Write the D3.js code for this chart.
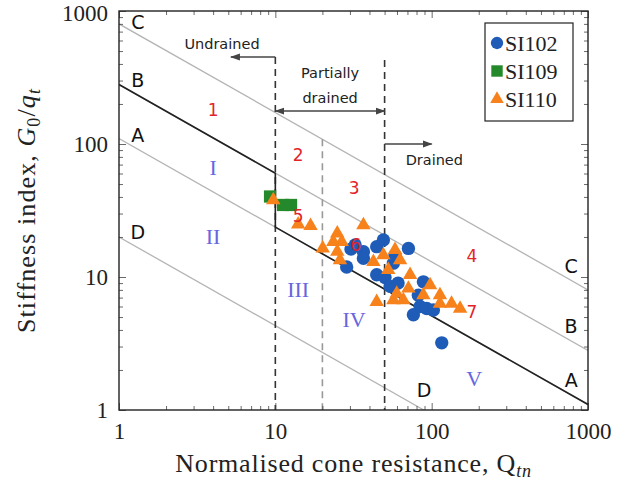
<!DOCTYPE html>
<html><head><meta charset="utf-8">
<script src="https://cdn.jsdelivr.net/npm/d3@7"></script>
<style>body{margin:0;background:#fff}</style>
</head><body>
<svg id="chart" width="627" height="484"></svg>
<script>
// ---------------- data ----------------
const xTickValues = [1, 10, 100, 1000];
const xTickLabels = ["1", "10", "100", "1000"];
const yTickValues = [1, 10, 100, 1000];
const yTickLabels = ["1", "10", "100", "1000"];

// SI102 (circles)
const si102Q = [32.4, 36.6, 44.5, 49.1, 71.0, 28.6, 44.5, 50.3, 56.9, 54.2, 88.5, 82.2, 76.4, 84.3, 93.0, 102.6, 116, 61, 36.6, 58.3, 30.5];
const si102G = [17.4, 15.5, 16.9, 19.0, 16.4, 11.9, 10.4, 9.9, 12.7, 8.5, 9.2, 7.3, 5.2, 6.0, 5.8, 5.65, 3.2, 9.0, 13.8, 14.6, 16.2];
// SI109 (squares)
const si109Q = [9.25, 11.2, 12.6];
const si109G = [40.3, 34.8, 34.8];
// SI110 (triangles)
const si110Q = [9.7, 14.0, 16.8, 36.6, 24.9, 23.5, 26.6, 20.1, 24.9, 25.9, 42.4, 49.1, 52.8, 44.5, 58.3, 62.8, 72.8, 71.0, 59.8, 65.9, 97.7, 88.5, 113, 113, 134, 152, 56.9];
const si110G = [37.9, 24.9, 24.3, 24.6, 21.3, 18.4, 18.4, 16.4, 15.5, 13.4, 13.0, 14.6, 11.3, 6.5, 16.0, 13.4, 10.4, 8.2, 7.5, 6.7, 8.7, 7.3, 7.3, 6.3, 6.3, 5.8, 6.7];

// reference lines (grey), end points
const refNames = ["C", "B", "A", "D"];
const refStartQ = [1, 1, 1, 1];
const refStartG = [800, 280, 110, 20];
const refEndQ = [1000, 1000, 1000, 89];
const refEndG = [8, 2.8, 1.1, 1];

// black boundary line
const boundaryQ = [1, 10, 10, 1000];
const boundaryG = [280, 60.3, 23.7, 1.1];

// vertical dashed boundaries
const dashQ = [10, 20, 50];
const dashTopG = [451, 108.6, 428];
const dashKind = ["dark", "light", "dark"];

// arrows
const arrowLabels = ["Undrained", "Partially drained", "Drained"];
const arrowFromQ = [10, 10, 50];
const arrowToQ = [5.2, 50, 100];
const arrowG = [451, 177, 100];
const arrowDouble = [false, true, false];

// text annotations
const drainTexts = ["Undrained", "Partially", "drained", "Drained"];
const drainQ = [4.56, 22.4, 22.4, 104];
const drainG = [565, 342, 222, 75.8];

const zoneNums = ["1", "2", "3", "4", "5", "6", "7"];
const zoneNumQ = [4.0, 14.0, 31.9, 181, 14.0, 32.8, 181];
const zoneNumG = [180, 82.7, 46.7, 14.4, 28.8, 17.4, 5.45];

const zoneRoman = ["I", "II", "III", "IV", "V"];
const zoneRomanQ = [4.0, 4.0, 14.0, 31.9, 187];
const zoneRomanG = [67.1, 20.0, 8.0, 4.75, 1.74];

const lineLabels = ["C", "B", "A", "D", "C", "B", "A", "D"];
const lineLabelQ = [1.32, 1.32, 1.32, 1.32, 780, 780, 780, 89.4];
const lineLabelG = [827, 303, 117, 21.8, 12.1, 4.28, 1.68, 1.41];

const seriesNames = ["SI102", "SI109", "SI110"];
const seriesColors = ["#1f5cb8", "#23892a", "#f7821b"];

// ---------------- chart ----------------
const svg = d3.select("#chart");
const L = 119, R = 588, T = 11, B = 410;
const x = d3.scaleLog().domain([1, 1000]).range([L, R]);
const y = d3.scaleLog().domain([1, 1000]).range([B, T]);

const minors = [];
[1, 10, 100].forEach(d => { for (let k = 2; k <= 9; k++) minors.push(d * k); });

const serif = "'Liberation Serif', 'Times New Roman', serif";
const sans = "'DejaVu Sans', 'Open Sans', sans-serif";

const defs = svg.append("defs");
defs.append("clipPath").attr("id", "plotclip")
  .append("rect").attr("x", L).attr("y", T).attr("width", R - L).attr("height", B - T);

const plot = svg.append("g").attr("clip-path", "url(#plotclip)");

// grey reference lines
const line = d3.line().x(d => x(d[0])).y(d => y(d[1]));
refNames.forEach((n, i) => {
  plot.append("path")
    .attr("d", line([[refStartQ[i], refStartG[i]], [refEndQ[i], refEndG[i]]]))
    .attr("fill", "none").attr("stroke", "#b4b4b4").attr("stroke-width", 1.3);
});

// dashed verticals
dashQ.forEach((q, i) => {
  plot.append("line")
    .attr("x1", x(q)).attr("x2", x(q))
    .attr("y1", y(dashTopG[i])).attr("y2", y(1))
    .attr("stroke", dashKind[i] === "dark" ? "#333" : "#999")
    .attr("stroke-width", 1.6)
    .attr("stroke-dasharray", "7,5");
});

// black boundary line
plot.append("path")
  .attr("d", line(boundaryQ.map((q, i) => [q, boundaryG[i]])))
  .attr("fill", "none").attr("stroke", "#222").attr("stroke-width", 1.6);

// arrows
defs.append("marker").attr("id", "ah").attr("viewBox", "0 0 10 10")
  .attr("refX", 9).attr("refY", 5).attr("markerWidth", 10).attr("markerHeight", 10)
  .attr("markerUnits", "userSpaceOnUse").attr("orient", "auto-start-reverse")
  .append("path").attr("d", "M0,1.5 L10,5 L0,8.5 Z").attr("fill", "#444");
arrowLabels.forEach((a, i) => {
  const l = svg.append("line")
    .attr("x1", x(arrowFromQ[i])).attr("x2", x(arrowToQ[i]))
    .attr("y1", y(arrowG[i])).attr("y2", y(arrowG[i]))
    .attr("stroke", "#444").attr("stroke-width", 1.6)
    .attr("marker-end", "url(#ah)");
  if (arrowDouble[i]) l.attr("marker-start", "url(#ah)");
});

drainTexts.forEach((t, i) => {
  svg.append("text").attr("x", x(drainQ[i])).attr("y", y(drainG[i]))
    .attr("text-anchor", "middle").attr("dominant-baseline", "central")
    .attr("font-family", sans).attr("font-size", 14.5).attr("fill", "#222").text(t);
});

// zone labels
zoneRoman.forEach((t, i) => {
  svg.append("text").attr("x", x(zoneRomanQ[i])).attr("y", y(zoneRomanG[i]))
    .attr("text-anchor", "middle").attr("dominant-baseline", "central")
    .attr("font-family", serif).attr("font-size", 22).attr("fill", "#6666e0").text(t);
});

// data points
const sym = d3.symbol();
function drawSeries(qs, gs, type, size, color) {
  plot.append("g").selectAll("path").data(qs.map((q, i) => [q, gs[i]])).join("path")
    .attr("transform", d => `translate(${x(d[0])},${y(d[1])})`)
    .attr("d", sym.type(type).size(size)())
    .attr("fill", color);
}
drawSeries(si109Q, si109G, d3.symbolSquare, 150, seriesColors[1]);
drawSeries(si102Q, si102G, d3.symbolCircle, 140, seriesColors[0]);
drawSeries(si110Q, si110G, d3.symbolTriangle, 90, seriesColors[2]);

zoneNums.forEach((t, i) => {
  svg.append("text").attr("x", x(zoneNumQ[i])).attr("y", y(zoneNumG[i]))
    .attr("text-anchor", "middle").attr("dominant-baseline", "central")
    .attr("font-family", sans).attr("font-size", 17).attr("fill", "#e3222a").text(t);
});

lineLabels.forEach((t, i) => {
  svg.append("text").attr("x", x(lineLabelQ[i])).attr("y", y(lineLabelG[i]))
    .attr("text-anchor", "middle").attr("dominant-baseline", "central")
    .attr("font-family", sans).attr("font-size", 19).attr("fill", "#111").text(t);
});

// axes
function styleAxis(g) {
  g.select(".domain").remove();
  g.selectAll(".tick line").attr("stroke", "#444").attr("stroke-width", 0.8);
  g.selectAll("text").attr("font-family", serif).attr("font-size", 23).attr("fill", "#222");
}
svg.append("g").attr("transform", `translate(0,${B})`)
  .call(d3.axisBottom(x).tickValues(xTickValues).tickFormat((d, i) => xTickLabels[i]).tickSize(-7).tickPadding(13)).call(styleAxis);
svg.append("g").attr("transform", `translate(0,${B})`)
  .call(d3.axisBottom(x).tickValues(minors).tickFormat("").tickSize(-4)).call(styleAxis);
svg.append("g").attr("transform", `translate(0,${T})`)
  .call(d3.axisTop(x).tickValues(xTickValues).tickFormat("").tickSize(-7)).call(styleAxis);
svg.append("g").attr("transform", `translate(0,${T})`)
  .call(d3.axisTop(x).tickValues(minors).tickFormat("").tickSize(-4)).call(styleAxis);
const yAxisG = svg.append("g").attr("transform", `translate(${L},0)`)
  .call(d3.axisLeft(y).tickValues(yTickValues).tickFormat((d, i) => yTickLabels[i]).tickSize(-7).tickPadding(11)).call(styleAxis);
yAxisG.selectAll(".tick text").filter(d => d === 1000).attr("dy", "0.42em");
svg.append("g").attr("transform", `translate(${L},0)`)
  .call(d3.axisLeft(y).tickValues(minors).tickFormat("").tickSize(-4)).call(styleAxis);
svg.append("g").attr("transform", `translate(${R},0)`)
  .call(d3.axisRight(y).tickValues(yTickValues).tickFormat("").tickSize(-7)).call(styleAxis);
svg.append("g").attr("transform", `translate(${R},0)`)
  .call(d3.axisRight(y).tickValues(minors).tickFormat("").tickSize(-4)).call(styleAxis);

svg.append("rect").attr("x", L).attr("y", T).attr("width", R - L).attr("height", B - T)
  .attr("fill", "none").attr("stroke", "#222").attr("stroke-width", 1.4);

// axis titles
const xt = svg.append("text").attr("x", (L + R) / 2).attr("y", 472)
  .attr("text-anchor", "middle").attr("font-family", serif).attr("font-size", 26)
  .attr("letter-spacing", 0.8).attr("fill", "#222");
xt.append("tspan").text("Normalised cone resistance, Q");
xt.append("tspan").attr("font-size", 18).attr("font-style", "italic").attr("dy", 5).text("tn");

const yt = svg.append("text").attr("transform", `translate(35,${(T + B) / 2}) rotate(-90)`)
  .attr("text-anchor", "middle").attr("font-family", serif).attr("font-size", 26)
  .attr("letter-spacing", 1.1).attr("fill", "#222");
yt.append("tspan").text("Stiffness index, ");
yt.append("tspan").attr("font-style", "italic").text("G");
yt.append("tspan").attr("font-size", 18).attr("dy", 5).text("0");
yt.append("tspan").attr("dy", -5).text("/");
yt.append("tspan").attr("font-style", "italic").text("q");
yt.append("tspan").attr("font-size", 18).attr("font-style", "italic").attr("dy", 5).text("t");

// legend
const lg = svg.append("g");
lg.append("rect").attr("x", 485).attr("y", 23).attr("width", 88).attr("height", 98)
  .attr("fill", "#fff").attr("stroke", "#222").attr("stroke-width", 1.2);
const legTypes = [d3.symbolCircle, d3.symbolSquare, d3.symbolTriangle];
const legSizes = [120, 130, 80];
seriesNames.forEach((n, i) => {
  const cy = 43 + i * 28;
  lg.append("path").attr("transform", `translate(497,${cy})`)
    .attr("d", d3.symbol().type(legTypes[i]).size(legSizes[i])()).attr("fill", seriesColors[i]);
  lg.append("text").attr("x", 505).attr("y", cy).attr("dominant-baseline", "central")
    .attr("font-family", serif).attr("font-size", 22).attr("fill", "#222").text(n);
});
</script>
</body></html>
